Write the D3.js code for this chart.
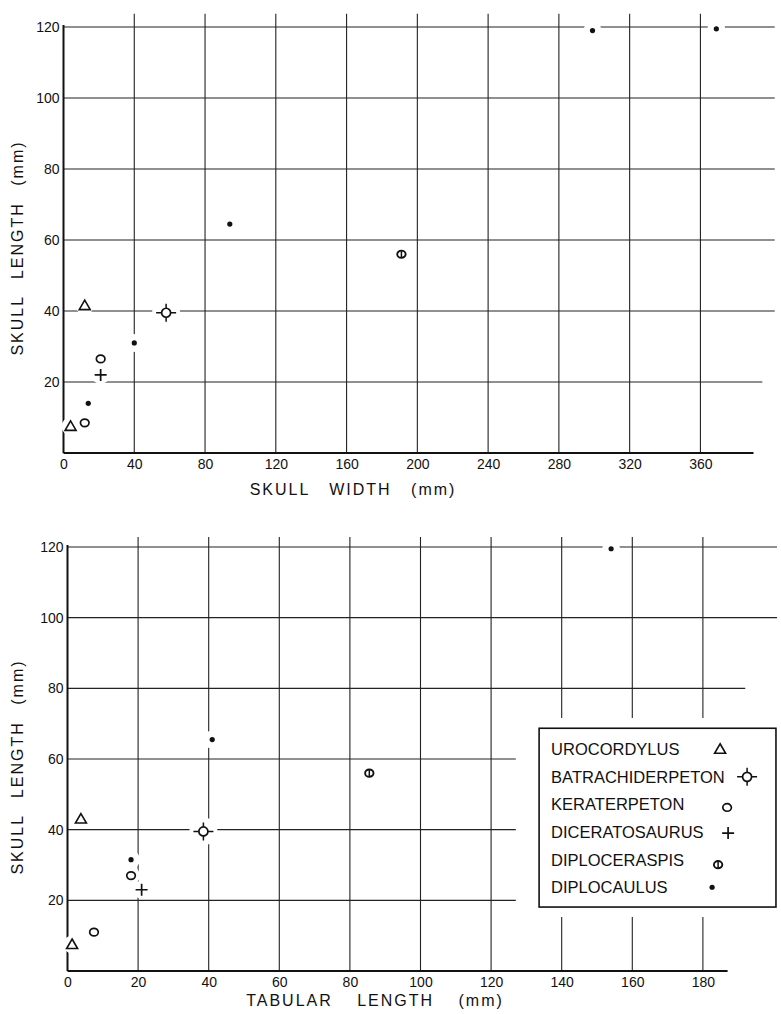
<!DOCTYPE html>
<html>
<head>
<meta charset="utf-8">
<script src="https://cdn.jsdelivr.net/npm/d3@7/dist/d3.min.js"></script>
<style>
  body { margin: 0; background: #fff; }
  svg { display: block; }
  text { font-family: "Liberation Sans", Arial, sans-serif; fill: #111; }
  .tick-label { font-size: 14px; }
  .axis-title { font-size: 16px; letter-spacing: 2px; }
  .legend-text { font-size: 16.5px; }
</style>
</head>
<body>
<script>
// species shown in the legend, in legend order
var species = ["UROCORDYLUS", "BATRACHIDERPETON", "KERATERPETON", "DICERATOSAURUS", "DIPLOCERASPIS", "DIPLOCAULUS"];
var symbolKind = ["triangle", "crosshair", "circle", "plus", "theta", "dot"];

// top plot: skull width vs skull length (mm)
var widthData = [
  { sp: "UROCORDYLUS", x: 4, y: 7.5 },
  { sp: "UROCORDYLUS", x: 12, y: 41.5 },
  { sp: "BATRACHIDERPETON", x: 58, y: 39.5 },
  { sp: "KERATERPETON", x: 12, y: 8.5 },
  { sp: "KERATERPETON", x: 21, y: 26.5 },
  { sp: "DICERATOSAURUS", x: 21, y: 22 },
  { sp: "DIPLOCAULUS", x: 14, y: 14 },
  { sp: "DIPLOCAULUS", x: 40, y: 31 },
  { sp: "DIPLOCAULUS", x: 94, y: 64.5 },
  { sp: "DIPLOCAULUS", x: 299, y: 119 },
  { sp: "DIPLOCAULUS", x: 369, y: 119.5 },
  { sp: "DIPLOCERASPIS", x: 191, y: 56 }
];

// bottom plot: tabular length vs skull length (mm)
var tabularData = [
  { sp: "UROCORDYLUS", x: 1.3, y: 7.5 },
  { sp: "UROCORDYLUS", x: 3.8, y: 43 },
  { sp: "BATRACHIDERPETON", x: 38.5, y: 39.5 },
  { sp: "KERATERPETON", x: 7.5, y: 11 },
  { sp: "KERATERPETON", x: 18, y: 27 },
  { sp: "DICERATOSAURUS", x: 21, y: 23 },
  { sp: "DIPLOCAULUS", x: 18, y: 31.5 },
  { sp: "DIPLOCAULUS", x: 41, y: 65.5 },
  { sp: "DIPLOCAULUS", x: 154, y: 119.5 },
  { sp: "DIPLOCERASPIS", x: 85.5, y: 56 }
];

var yTicks = [20, 40, 60, 80, 100, 120];
var widthTicks = [0, 40, 80, 120, 160, 200, 240, 280, 320, 360];
var tabularTicks = [0, 20, 40, 60, 80, 100, 120, 140, 160, 180];

var W = 781, H = 1014;
var svg = d3.select("body").append("svg")
  .attr("width", W)
  .attr("height", H);

// draws one of the hand-lettered symbols centred on 0,0
function drawSymbol(g, kind) {
  var ink = "#111";
  if (kind == "triangle") {
    g.append("path").attr("d", "M0,-5.5L5.5,4L-5.5,4Z")
      .attr("fill", "none").attr("stroke", ink).attr("stroke-width", 1.6);
  } else if (kind == "circle") {
    g.append("ellipse").attr("rx", 4.3).attr("ry", 3.8)
      .attr("fill", "none").attr("stroke", ink).attr("stroke-width", 1.7);
  } else if (kind == "plus") {
    g.append("path").attr("d", "M-6,0H6M0,-6V6")
      .attr("stroke", ink).attr("stroke-width", 1.7);
  } else if (kind == "dot") {
    g.append("circle").attr("r", 2.6).attr("fill", ink);
  } else if (kind == "theta") {
    g.append("ellipse").attr("rx", 4.2).attr("ry", 3.6)
      .attr("fill", "none").attr("stroke", ink).attr("stroke-width", 1.9);
    g.append("path").attr("d", "M0,-3.6V3.6").attr("stroke", ink).attr("stroke-width", 1.5);
  } else if (kind == "crosshair") {
    g.append("circle").attr("r", 4.5)
      .attr("fill", "none").attr("stroke", ink).attr("stroke-width", 1.7);
    g.append("path").attr("d", "M-10,0H-4.5M4.5,0H10M0,-9V-4.5M0,4.5V9")
      .attr("stroke", ink).attr("stroke-width", 1.5);
  }
}

function kindOf(sp) {
  return symbolKind[species.indexOf(sp)];
}

function plotPanel(opt) {
  var x = d3.scaleLinear().domain(opt.xDomain).range(opt.xRange);
  var y = d3.scaleLinear().domain([0, 120]).range(opt.yRange);
  var g = svg.append("g");

  // vertical grid lines (some broken around the legend)
  opt.xTicks.filter(function(d){ return d > 0; }).forEach(function(t) {
    var segs = opt.vBreak && t >= opt.vBreak.from ? [[0, opt.vBreak.lo], [opt.vBreak.hi, opt.vTop]] : [[0, opt.vTop]];
    segs.forEach(function(s) {
      g.append("line")
        .attr("x1", x(t)).attr("x2", x(t))
        .attr("y1", y(s[0])).attr("y2", y(s[1]))
        .attr("stroke", "#222").attr("stroke-width", 1.1);
    });
  });

  // horizontal grid lines
  yTicks.forEach(function(t) {
    g.append("line")
      .attr("x1", x(0)).attr("x2", x(opt.hRight(t)))
      .attr("y1", y(t)).attr("y2", y(t))
      .attr("stroke", "#222").attr("stroke-width", 1.1);
  });

  // axes
  var xAxis = d3.axisBottom(x).tickValues(opt.xTicks).tickSize(0).tickPadding(6);
  var gx = g.append("g").attr("transform", "translate(0," + y(0) + ")").call(xAxis);
  gx.select(".domain").attr("stroke", "#111").attr("stroke-width", 2)
    .attr("d", "M" + x(0) + ",0H" + x(opt.xDomain[1]));
  gx.selectAll("text").attr("class", "tick-label").attr("fill", "#111")
    .style("font-family", "Liberation Sans, Arial, sans-serif").style("font-size", "14px");

  var yAxis = d3.axisLeft(y).tickValues(yTicks).tickSize(0).tickPadding(4);
  var gy = g.append("g").attr("transform", "translate(" + x(0) + ",0)").call(yAxis);
  gy.select(".domain").attr("stroke", "#111").attr("stroke-width", 2)
    .attr("d", "M0," + y(0) + "V" + (y(120) - 2));
  gy.selectAll("text").attr("fill", "#111")
    .style("font-family", "Liberation Sans, Arial, sans-serif").style("font-size", "14px");

  // white halos knock the grid out behind the symbols, like the original drafting
  g.selectAll(".halo").data(opt.data).enter().append("circle")
    .attr("class", "halo")
    .attr("cx", function(d){ return x(d.x); })
    .attr("cy", function(d){ return y(d.y); })
    .attr("r", function(d){ return kindOf(d.sp) == "crosshair" ? 14 : 9; })
    .attr("fill", "#fff");

  g.selectAll(".pt").data(opt.data).enter().append("g")
    .attr("class", "pt")
    .attr("transform", function(d){ return "translate(" + x(d.x) + "," + y(d.y) + ")"; })
    .each(function(d){ drawSymbol(d3.select(this), kindOf(d.sp)); });

  // axis titles
  g.append("text").attr("class", "axis-title")
    .attr("text-anchor", "middle")
    .attr("x", opt.xTitleX).attr("y", y(0) + opt.xTitleDy)
    .style("word-spacing", opt.wordGap + "px")
    .text(opt.xTitle);

  g.append("text").attr("class", "axis-title")
    .attr("text-anchor", "middle")
    .attr("transform", "translate(23," + ((y(0) + y(120)) / 2 + 8) + ") rotate(-90)")
    .style("word-spacing", "10px")
    .text("SKULL LENGTH (mm)");

  return { x: x, y: y, g: g };
}

plotPanel({
  data: widthData,
  xDomain: [0, 390],
  xRange: [63.5, 753.5],
  yRange: [453, 27],
  xTicks: widthTicks,
  vTop: 123.7,
  hRight: function(t){ return t == 20 ? 395 : 402; },
  xTitle: "SKULL WIDTH (mm)",
  xTitleX: 353,
  xTitleDy: 42,
  wordGap: 13
});

var bottom = plotPanel({
  data: tabularData,
  xDomain: [0, 187],
  xRange: [67.5, 727.6],
  yRange: [971, 547],
  xTicks: tabularTicks,
  vTop: 122.8,
  vBreak: { from: 140, lo: 15.3, hi: 71.6 },
  hRight: function(t){ return t >= 100 ? 201 : (t == 80 ? 192 : 127); },
  xTitle: "TABULAR LENGTH (mm)",
  xTitleX: 375,
  xTitleDy: 35,
  wordGap: 18
});

// legend box inside the bottom panel
var bx = bottom.x, by = bottom.y;
var lx = bx(133.6), ly = by(68.7), lw = bx(200.7) - bx(133.6), lh = by(18.1) - by(68.7);
var legend = svg.append("g").attr("transform", "translate(" + lx + "," + ly + ")");
legend.append("rect")
  .attr("width", lw).attr("height", lh)
  .attr("fill", "#fff").attr("stroke", "#111").attr("stroke-width", 1.6);

var markDx = [181, 208, 188, 189, 179, 173];
var markDy = [0, 0, 3, 1, 5, 0];
species.forEach(function(name, i) {
  var cy = 21 + i * 27.6;
  legend.append("text").attr("class", "legend-text")
    .attr("x", 12).attr("y", cy + 6)
    .text(name);
  var m = legend.append("g").attr("transform", "translate(" + markDx[i] + "," + (cy + markDy[i]) + ")");
  drawSymbol(m, symbolKind[i]);
});
</script>
</body>
</html>
